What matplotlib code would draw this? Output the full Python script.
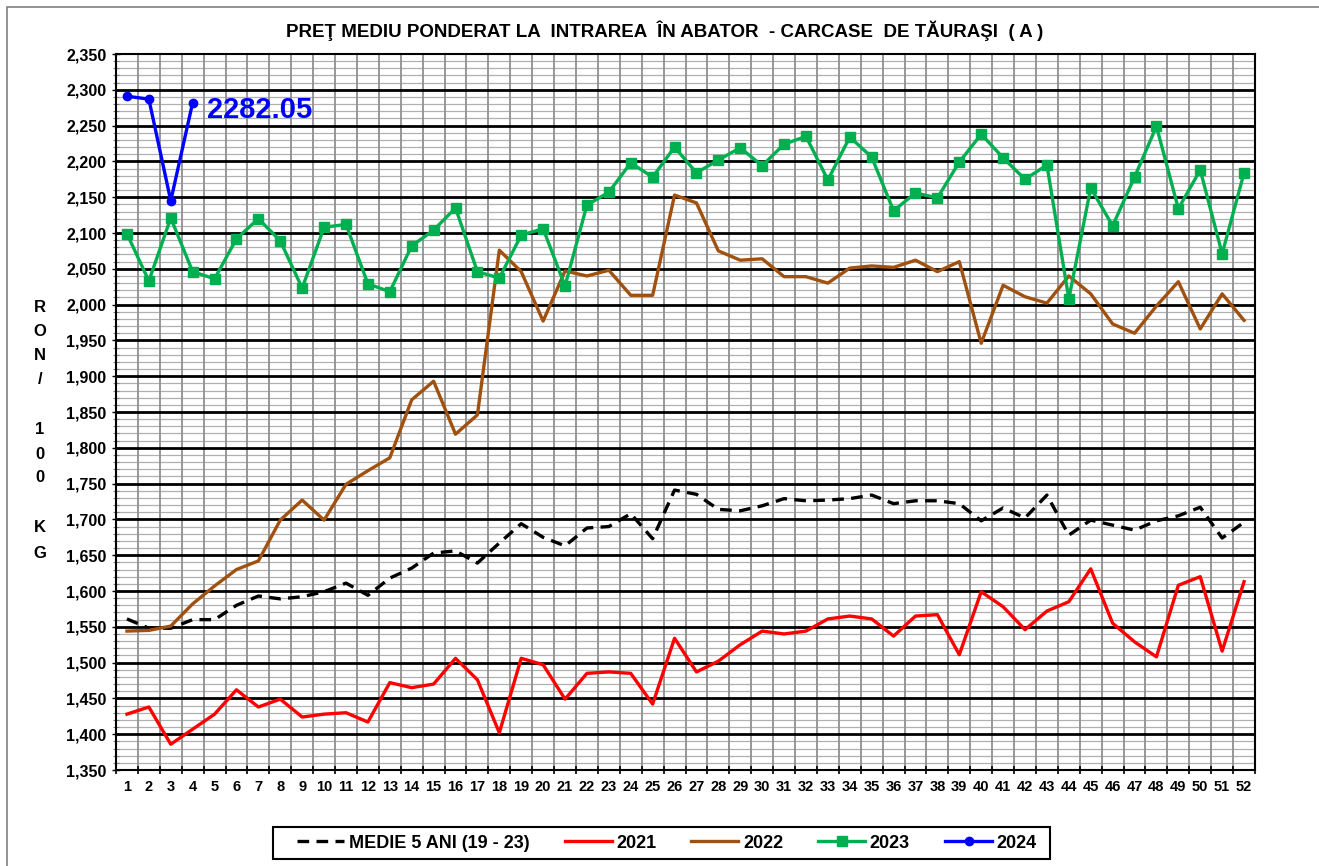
import matplotlib
matplotlib.use("Agg")
import matplotlib.pyplot as plt
from matplotlib.ticker import FuncFormatter, MultipleLocator
from matplotlib.patches import Rectangle

weeks = list(range(1, 53))

medie = [1561, 1548, 1548, 1560, 1560, 1580, 1593, 1589, 1592, 1599,
         1611, 1594, 1618, 1632, 1653, 1656, 1639, 1667, 1694, 1675,
         1663, 1688, 1690, 1708, 1673, 1741, 1735, 1714, 1712, 1719,
         1729, 1726, 1727, 1729, 1734, 1722, 1726, 1726, 1722, 1698,
         1716, 1702, 1734, 1678, 1699, 1692, 1685, 1698, 1705, 1717,
         1674, 1696]

y2021 = [1428, 1438, 1386, 1407, 1428, 1462, 1438, 1449, 1424, 1428,
         1430, 1417, 1472, 1465, 1470, 1506, 1476, 1402, 1506, 1497,
         1449, 1485, 1487, 1485, 1442, 1534, 1487, 1502, 1525, 1544,
         1540, 1544, 1561, 1565, 1561, 1537, 1565, 1567, 1511, 1599,
         1578, 1546, 1572, 1585, 1631, 1555, 1529, 1508, 1608, 1620,
         1516, 1613]

y2022 = [1544, 1545, 1551, 1582, 1607, 1630, 1642, 1699, 1727, 1699,
         1749, 1768, 1786, 1867, 1893, 1819, 1846, 2076, 2046, 1977,
         2047, 2040, 2048, 2013, 2013, 2153, 2142, 2075, 2062, 2064,
         2039, 2039, 2030, 2051, 2054, 2052, 2062, 2046, 2060, 1946,
         2027, 2011, 2002, 2040, 2015, 1973, 1960, 1998, 2032, 1966,
         2015, 1978]

y2023 = [2099, 2033, 2121, 2046, 2036, 2092, 2120, 2089, 2023, 2108,
         2112, 2029, 2018, 2082, 2104, 2135, 2046, 2037, 2097, 2106,
         2026, 2139, 2157, 2198, 2178, 2220, 2184, 2202, 2219, 2194,
         2224, 2235, 2174, 2234, 2206, 2131, 2156, 2149, 2199, 2238,
         2205, 2175, 2195, 2008, 2163, 2110, 2178, 2249, 2134, 2188,
         2071, 2184]

weeks2024 = [1, 2, 3, 4]
y2024 = [2291, 2287, 2145, 2282.05]

title = "PREŢ MEDIU PONDERAT LA  INTRAREA  ÎN ABATOR  - CARCASE  DE TĂURAŞI  ( A )"
legend_labels = ['MEDIE 5 ANI (19 - 23)', '2021', '2022', '2023', '2024']

plt.rcParams['font.family'] = ['Liberation Sans', 'DejaVu Sans']
plt.rcParams['font.weight'] = 'bold'

fig = plt.figure(figsize=(13.19, 8.66), dpi=100)
W, H = 1319, 866
ax = fig.add_axes([116 / W, 1 - 770 / H, (1255 - 116) / W, (770 - 54) / H])

# outer frame
fig.add_artist(Rectangle((7 / W, -0.01), 1.2, (H - 7) / H + 0.01, transform=fig.transFigure,
                         fill=False, edgecolor='#808080', lw=1.2))

ax.set_xlim(0.5, 52.5)
ax.set_ylim(1350, 2350)

# grid
ax.yaxis.set_major_locator(MultipleLocator(50))
ax.yaxis.set_minor_locator(MultipleLocator(10))
for v in range(1360, 2350, 10):
    if v % 50 != 0:
        ax.axhline(v, color='#b0b0b0', lw=0.9, zorder=1)
for v in range(1400, 2350, 50):
    ax.axhline(v, color='black', lw=2.0, zorder=2)
for k in range(1, 52):
    ax.axvline(k + 0.5, color='#909090', lw=1.3, zorder=1.5)

ax.set_xticks(weeks)
ax.set_xticks([k + 0.5 for k in range(0, 53)], minor=True)
ax.tick_params(axis='x', which='major', length=0, labelsize=10.5, pad=7)
ax.tick_params(axis='x', which='minor', length=6, width=1.2, color='black',
               direction='inout')
ax.tick_params(axis='y', which='major', length=6, width=1, labelsize=11.5, pad=4,
               direction='inout')
ax.tick_params(axis='y', which='minor', length=5, width=0.8, color='#808080',
               direction='inout')
ax.yaxis.set_major_formatter(FuncFormatter(lambda v, p: f"{int(v):,}"))
for lab in ax.get_xticklabels() + ax.get_yticklabels():
    lab.set_fontweight('bold')

for s in ax.spines.values():
    s.set_color('black')
    s.set_linewidth(1.5)

lw = 2.4
l1, = ax.plot(weeks, medie, color='black', lw=lw, ls=(0, (3.5, 2.2)), zorder=5)
l2, = ax.plot(weeks, y2021, color='#ff0000', lw=lw, zorder=5)
l3, = ax.plot(weeks, y2022, color='#a0500f', lw=lw, zorder=5)
l4, = ax.plot(weeks, y2023, color='#00b050', lw=lw, marker='s', markersize=6.5,
              zorder=6)
l5, = ax.plot(weeks2024, y2024, color='#0000ff', lw=lw, marker='o', markersize=6,
              zorder=7)

ax.annotate(f"{y2024[-1]:.2f}", xy=(weeks2024[-1], y2024[-1]), xytext=(10, -5),
            textcoords='offset points', color='#0000ff', fontsize=21,
            fontweight='bold', va='center', ha='left', zorder=8)

fig.text(665 / W, 1 - 31 / H, title, ha='center', va='center', fontsize=13.5,
         fontweight='bold')

ylabel_letters = [("R", 307), ("O", 331), ("N", 355), ("/", 379), ("1", 430),
                  ("0", 454), ("0", 478), ("K", 528), ("G", 553)]
for ch, yy in ylabel_letters:
    fig.text(40 / W, 1 - yy / H, ch, ha='center', va='center', fontsize=12,
             fontweight='bold')

# legend frame drawn separately for exact proportions
fig.add_artist(Rectangle((273 / W, 1 - 859 / H), (1050 - 273) / W, 32 / H,
                         transform=fig.transFigure, fill=True, facecolor='white',
                         edgecolor='black', lw=1.5, zorder=3))
leg = fig.legend(handles=[l1, l2, l3, l4, l5], labels=legend_labels, loc='center',
                 bbox_to_anchor=(667 / W, 1 - 843 / H), ncol=5, frameon=False,
                 prop={'size': 13, 'weight': 'bold'},
                 handlelength=2.6, handletextpad=0.25, columnspacing=1.95,
                 borderpad=0.2, borderaxespad=0)
leg.set_zorder(4)

fig.savefig("out.png", dpi=100)
